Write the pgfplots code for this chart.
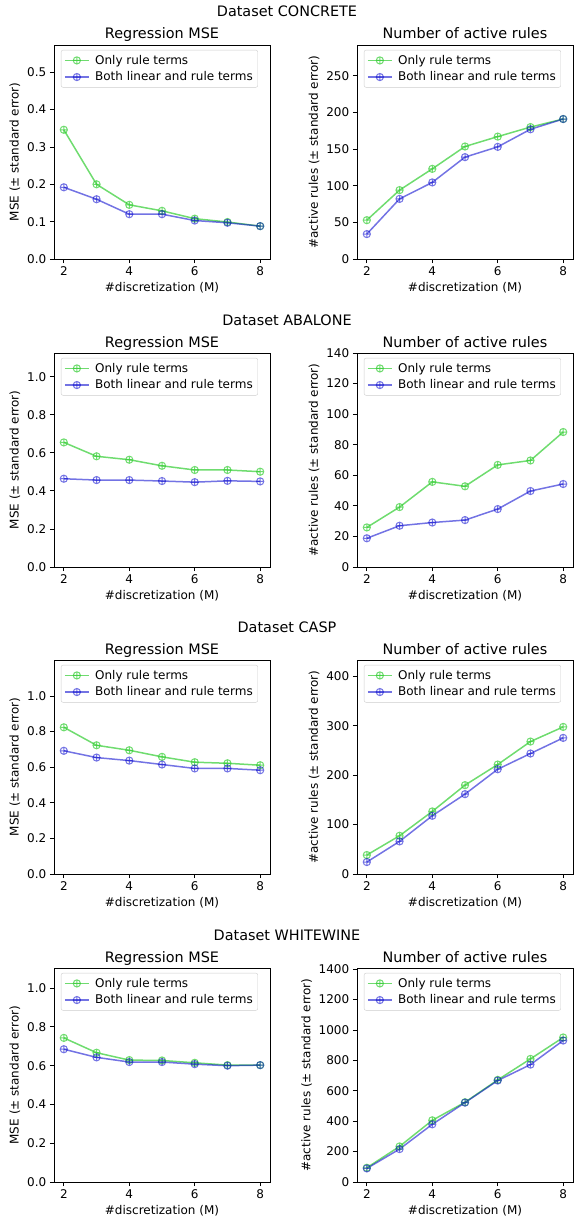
\documentclass[border=0pt]{standalone}
\usepackage{fontspec}
\setmainfont{DejaVu Sans}
\usepackage{pgfplots}
\pgfplotsset{compat=1.18}
\definecolor{gc}{RGB}{50,205,50}
\definecolor{bc}{RGB}{0,0,205}
\pgfplotsset{
  panel/.style={
    scale only axis, width=216pt, height=214pt,
    xmin=1.7, xmax=8.3, xtick={2,4,6,8},
    tick pos=left, tick align=outside, major tick length=4.2pt,
    tick style={black, line width=0.9pt},
    axis line style={line width=0.9pt},
    ticklabel style={font=\fontsize{12}{14}\selectfont},
    label style={font=\fontsize{12}{14}\selectfont},
    title style={font=\fontsize{14.4}{16}\selectfont, anchor=base},
    xlabel={\#discretization (M)},
    /pgf/number format/assume math mode=true,
    /pgf/number format/1000 sep={},
    legend cell align=left,
    legend style={at={(0.032,0.977)}, anchor=north west, draw=black!20, rounded corners=2pt,
      font=\fontsize{12}{14}\selectfont, inner sep=3pt, row sep=2pt, column sep=3.5pt},
    legend image code/.code={\draw[mark repeat=2,mark phase=2] plot coordinates {(0pt,0pt)(12pt,0pt)(24pt,0pt)};},
  },
  msepanel/.style={panel, ylabel={MSE (± standard error)}, title={Regression MSE},
    yticklabel style={/pgf/number format/.cd, fixed, fixed zerofill, precision=1}},
  rulepanel/.style={panel, ylabel={\#active rules (± standard error)}, title={Number of active rules}},
  gser/.style={color=gc, opacity=0.7, line width=1.5pt, mark=oplus, mark size=3.6pt, mark options={line width=1pt}},
  bser/.style={color=bc, opacity=0.55, line width=1.5pt, mark=oplus, mark size=3.6pt, mark options={line width=1pt}},
}
\newcommand{\suptitle}[2]{\node[font=\fontsize{14.4}{16}\selectfont, anchor=base] at (287pt,-#1) {#2};}
\begin{document}
\begin{tikzpicture}
\useasboundingbox (0,0) rectangle (574pt,-1222pt);
% ---------- Row 1: CONCRETE
\suptitle{17pt}{Dataset CONCRETE}
\begin{axis}[msepanel, at={(54pt,-259pt)}, anchor=south west, ymin=0, ymax=0.573, ytick={0,0.1,0.2,0.3,0.4,0.5}]
\addplot[gser] coordinates {(2,0.346)(3,0.200)(4,0.145)(5,0.129)(6,0.108)(7,0.099)(8,0.088)};
\addlegendentry{Only rule terms}
\addplot[bser] coordinates {(2,0.192)(3,0.160)(4,0.120)(5,0.120)(6,0.103)(7,0.097)(8,0.088)};
\addlegendentry{Both linear and rule terms}
\end{axis}
\begin{axis}[rulepanel, at={(357pt,-259pt)}, anchor=south west, ymin=0, ymax=292, ytick={0,50,100,150,200,250}]
\addplot[gser] coordinates {(2,53)(3,94)(4,123)(5,153.5)(6,167)(7,180)(8,191)};
\addlegendentry{Only rule terms}
\addplot[bser] coordinates {(2,34)(3,82)(4,104.5)(5,139)(6,153)(7,177)(8,191)};
\addlegendentry{Both linear and rule terms}
\end{axis}
% ---------- Row 2: ABALONE
\suptitle{325pt}{Dataset ABALONE}
\begin{axis}[msepanel, at={(54pt,-567pt)}, anchor=south west, ymin=0, ymax=1.125, ytick={0,0.2,0.4,0.6,0.8,1.0}]
\addplot[gser] coordinates {(2,0.655)(3,0.582)(4,0.564)(5,0.532)(6,0.510)(7,0.510)(8,0.501)};
\addlegendentry{Only rule terms}
\addplot[bser] coordinates {(2,0.464)(3,0.457)(4,0.457)(5,0.452)(6,0.446)(7,0.453)(8,0.450)};
\addlegendentry{Both linear and rule terms}
\end{axis}
\begin{axis}[rulepanel, at={(357pt,-567pt)}, anchor=south west, ymin=0, ymax=140, ytick={0,20,40,60,80,100,120,140}]
\addplot[gser] coordinates {(2,25.9)(3,39.2)(4,55.7)(5,52.8)(6,66.8)(7,69.7)(8,88.3)};
\addlegendentry{Only rule terms}
\addplot[bser] coordinates {(2,18.8)(3,27.0)(4,29.1)(5,30.7)(6,37.9)(7,49.7)(8,54.3)};
\addlegendentry{Both linear and rule terms}
\end{axis}
% ---------- Row 3: CASP
\suptitle{632pt}{Dataset CASP}
\begin{axis}[msepanel, at={(54pt,-874pt)}, anchor=south west, ymin=0, ymax=1.202, ytick={0,0.2,0.4,0.6,0.8,1.0}]
\addplot[gser] coordinates {(2,0.824)(3,0.723)(4,0.695)(5,0.658)(6,0.628)(7,0.622)(8,0.611)};
\addlegendentry{Only rule terms}
\addplot[bser] coordinates {(2,0.692)(3,0.654)(4,0.637)(5,0.615)(6,0.593)(7,0.593)(8,0.583)};
\addlegendentry{Both linear and rule terms}
\end{axis}
\begin{axis}[rulepanel, at={(357pt,-874pt)}, anchor=south west, ymin=0, ymax=433, ytick={0,100,200,300,400}]
\addplot[gser] coordinates {(2,38.4)(3,77.4)(4,126.6)(5,179.8)(6,221.5)(7,268)(8,297.6)};
\addlegendentry{Only rule terms}
\addplot[bser] coordinates {(2,24.2)(3,66)(4,117.8)(5,161.6)(6,212)(7,243.8)(8,275.4)};
\addlegendentry{Both linear and rule terms}
\end{axis}
% ---------- Row 4: WHITEWINE
\suptitle{940pt}{Dataset WHITEWINE}
\begin{axis}[msepanel, at={(54pt,-1182pt)}, anchor=south west, ymin=0, ymax=1.104, ytick={0,0.2,0.4,0.6,0.8,1.0}]
\addplot[gser] coordinates {(2,0.7435)(3,0.667)(4,0.629)(5,0.627)(6,0.615)(7,0.603)(8,0.603)};
\addlegendentry{Only rule terms}
\addplot[bser] coordinates {(2,0.685)(3,0.643)(4,0.619)(5,0.619)(6,0.608)(7,0.600)(8,0.603)};
\addlegendentry{Both linear and rule terms}
\end{axis}
\begin{axis}[rulepanel, at={(357pt,-1182pt)}, anchor=south west, ymin=0, ymax=1408, ytick={0,200,400,600,800,1000,1200,1400}]
\addplot[gser] coordinates {(2,93.8)(3,234)(4,406)(5,524.7)(6,672)(7,810)(8,951)};
\addlegendentry{Only rule terms}
\addplot[bser] coordinates {(2,89.3)(3,216.6)(4,379.6)(5,522.4)(6,667.6)(7,772.5)(8,931)};
\addlegendentry{Both linear and rule terms}
\end{axis}
\end{tikzpicture}
\end{document}
